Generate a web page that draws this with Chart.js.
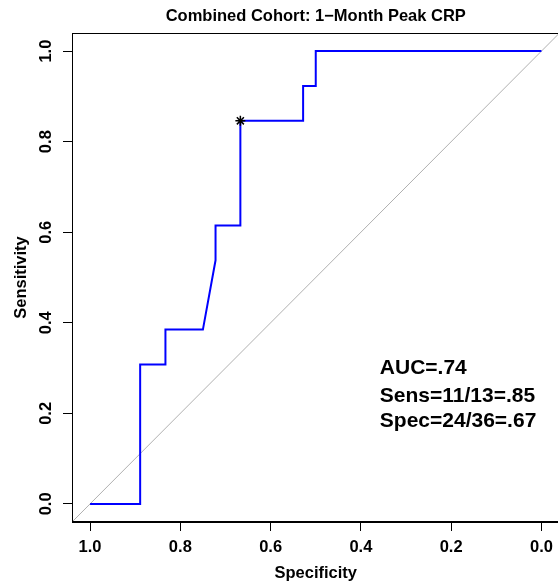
<!DOCTYPE html>
<html>
<head>
<meta charset="utf-8">
<script src="https://cdn.jsdelivr.net/npm/chart.js@4"></script>
<style>
  html, body { margin: 0; padding: 0; background: #fff; overflow: hidden; }
  #wrap { width: 566px; height: 588px; position: relative; }
</style>
</head>
<body>
<div id="wrap"><canvas id="roc"></canvas></div>
<script>
// --- Data ---
const specificity = [1, 0.889, 0.889, 0.833, 0.833, 0.75, 0.722, 0.722, 0.667, 0.667, 0.528, 0.528, 0.5, 0.5, 0];
const sensitivity = [0, 0, 0.308, 0.308, 0.385, 0.385, 0.538, 0.615, 0.615, 0.846, 0.846, 0.923, 0.923, 1, 1];
const cutoffSpec = [0.667];
const cutoffSens = [0.846];
const chanceSpec = [1.04, -0.04];
const chanceSens = [-0.04, 1.04];
const xTicks = [1.0, 0.8, 0.6, 0.4, 0.2, 0.0];
const yTicks = [0.0, 0.2, 0.4, 0.6, 0.8, 1.0];
const titleText = 'Combined Cohort: 1\u2212Month Peak CRP';
const statLines = ['AUC=.74', 'Sens=11/13=.85', 'Spec=24/36=.67'];

const FONT = '"Liberation Sans", Arial, Helvetica, sans-serif';
Chart.defaults.font.family = FONT;
Chart.defaults.color = '#000';

const toPts = (xs, ys) => xs.map((x, i) => ({ x: x, y: ys[i] }));

// box, title and stats text
const extras = {
  id: 'extras',
  afterDraw(chart) {
    const { ctx, chartArea: a, scales } = chart;
    ctx.save();
    ctx.strokeStyle = '#000';
    ctx.lineWidth = 1;
    ctx.strokeRect(a.left + 0.5, a.top + 0.5, a.right - a.left - 1, a.bottom - a.top - 1);

    ctx.fillStyle = '#000';
    ctx.font = 'bold 16.5px ' + FONT;
    ctx.textAlign = 'center';
    ctx.textBaseline = 'middle';
    ctx.fillText(titleText, (a.left + a.right) / 2, 16);

    ctx.font = 'bold 21px ' + FONT;
    ctx.textAlign = 'left';
    const x0 = scales.x.getPixelForValue(0.358);
    const ys = [0.30, 0.238, 0.183];
    statLines.forEach((t, i) => ctx.fillText(t, x0, scales.y.getPixelForValue(ys[i])));
    ctx.restore();
  }
};

new Chart(document.getElementById('roc'), {
  type: 'scatter',
  data: {
    datasets: [
      {
        label: 'cutoff',
        data: toPts(cutoffSpec, cutoffSens),
        pointStyle: 'star',
        pointRadius: 5,
        borderColor: '#000',
        backgroundColor: '#000',
        borderWidth: 1.5,
        order: 0
      },
      {
        label: 'ROC',
        data: toPts(specificity, sensitivity),
        showLine: true,
        borderColor: '#0000ff',
        borderWidth: 2,
        pointRadius: 0,
        tension: 0,
        order: 1
      },
      {
        label: 'chance',
        data: toPts(chanceSpec, chanceSens),
        showLine: true,
        borderColor: '#b0b0b0',
        borderWidth: 1,
        pointRadius: 0,
        order: 2
      }
    ]
  },
  options: {
    responsive: true,
    maintainAspectRatio: false,
    animation: false,
    layout: { padding: { top: 33, right: 1, left: 0, bottom: 0 } },
    plugins: {
      legend: { display: false },
      title: { display: false },
      tooltip: { enabled: false }
    },
    scales: {
      x: {
        type: 'linear',
        reverse: true,
        min: -0.04,
        max: 1.04,
        afterBuildTicks: s => { s.ticks = xTicks.map(v => ({ value: v })); },
        afterFit: s => { s.height = 66; s.paddingLeft = 0; s.paddingRight = 0; },
        grid: { drawOnChartArea: false, drawTicks: true, tickLength: 9, color: '#000' },
        border: { display: true, color: '#000', width: 1 },
        ticks: {
          callback: v => v.toFixed(1),
          font: { size: 16.5, weight: 'bold' },
          padding: 7,
          maxRotation: 0,
          minRotation: 0
        },
        title: {
          display: true,
          text: 'Specificity',
          font: { size: 16.5, weight: 'bold' },
          padding: { top: 0, bottom: 5 }
        }
      },
      y: {
        type: 'linear',
        min: -0.04,
        max: 1.04,
        afterBuildTicks: s => { s.ticks = yTicks.map(v => ({ value: v })); },
        afterFit: s => { s.width = 72; },
        grid: { drawOnChartArea: false, drawTicks: true, tickLength: 9, color: '#000' },
        border: { display: true, color: '#000', width: 1 },
        ticks: {
          callback: v => v.toFixed(1),
          font: { size: 16.5, weight: 'bold' },
          padding: 5,
          crossAlign: 'center',
          minRotation: 90,
          maxRotation: 90
        },
        title: {
          display: true,
          text: 'Sensitivity',
          font: { size: 16.5, weight: 'bold' },
          padding: { top: 12, bottom: 0 }
        }
      }
    }
  },
  plugins: [extras]
});
</script>
</body>
</html>
